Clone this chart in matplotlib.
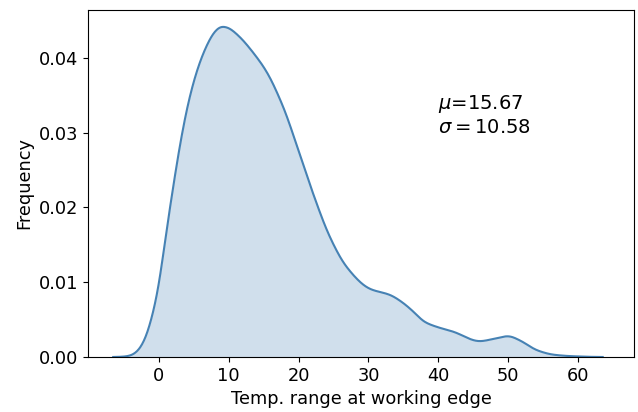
import numpy as np
import matplotlib.pyplot as plt

# density curve
temp_range = [-6.5, -5, -4, -3, -2, -1, 0, 1, 2, 3, 4, 5, 6, 7, 8, 9, 10, 11, 12,
              13, 14, 15, 16, 17, 18, 20, 22.1, 24.5, 26.9, 30.2, 33.1, 35.0,
              36.5, 38.0, 40.2, 42.1, 45.9, 47.8, 50.0, 51.7, 54.1, 56.5, 59.3, 63.5]
density = [0.0, 0.00005, 0.0002, 0.0008, 0.0023, 0.0052, 0.0095, 0.0161, 0.0223,
           0.0281, 0.033, 0.0368, 0.0397, 0.0419, 0.0435, 0.0442, 0.0440, 0.0433,
           0.0424, 0.0413, 0.0401, 0.0388, 0.0372, 0.0352, 0.033, 0.0276, 0.0218,
           0.016, 0.012, 0.0091, 0.0083, 0.0072, 0.0060, 0.0047, 0.0039, 0.0034,
           0.0021, 0.0024, 0.0028, 0.0022, 0.0009, 0.0003, 0.0001, 0.0]
mu = 15.67
sigma = 10.58


def pchip(x, y, xs):
    # monotone cubic hermite so the curve is smooth between read points
    x = np.asarray(x, float)
    y = np.asarray(y, float)
    h = np.diff(x)
    d = np.diff(y) / h
    m = np.zeros_like(y)
    for i in range(1, len(y) - 1):
        if d[i - 1] * d[i] > 0:
            w1 = 2 * h[i] + h[i - 1]
            w2 = h[i] + 2 * h[i - 1]
            m[i] = (w1 + w2) / (w1 / d[i - 1] + w2 / d[i])
    idx = np.clip(np.searchsorted(x, xs) - 1, 0, len(x) - 2)
    t = (xs - x[idx]) / h[idx]
    h00 = 2 * t**3 - 3 * t**2 + 1
    h10 = t**3 - 2 * t**2 + t
    h01 = -2 * t**3 + 3 * t**2
    h11 = t**3 - t**2
    return (h00 * y[idx] + h10 * h[idx] * m[idx] + h01 * y[idx + 1]
            + h11 * h[idx] * m[idx + 1])


xs = np.linspace(temp_range[0], temp_range[-1], 800)
ys = pchip(temp_range, density, xs)
# light gaussian smoothing to take the corners off
k = np.exp(-0.5 * (np.arange(-12, 13) / 5.0) ** 2)
k /= k.sum()
ys = np.convolve(np.pad(ys, 12, mode="edge"), k, mode="valid")

fig = plt.figure(figsize=(6.38, 4.12), dpi=100)
ax = fig.add_axes([0.138, 0.1335, 0.856, 0.8425])
ax.fill_between(xs, ys, color="steelblue", alpha=0.25, linewidth=0)
ax.plot(xs, ys, color="steelblue", linewidth=1.5)
ax.set_xlim(-10.1, 68.0)
ax.set_ylim(0, 0.0464)
ax.set_xticks([0, 10, 20, 30, 40, 50, 60])
ax.set_yticks([0.0, 0.01, 0.02, 0.03, 0.04])
ax.set_xlabel("Temp. range at working edge", fontsize=12.8)
ax.set_ylabel("Frequency", fontsize=12.8)
ax.tick_params(labelsize=12.8)
ax.text(40, 0.0300, "$\\mu$=%.2f\n$\\sigma = $%.2f" % (mu, sigma), fontsize=14)
fig.savefig("out.png")
